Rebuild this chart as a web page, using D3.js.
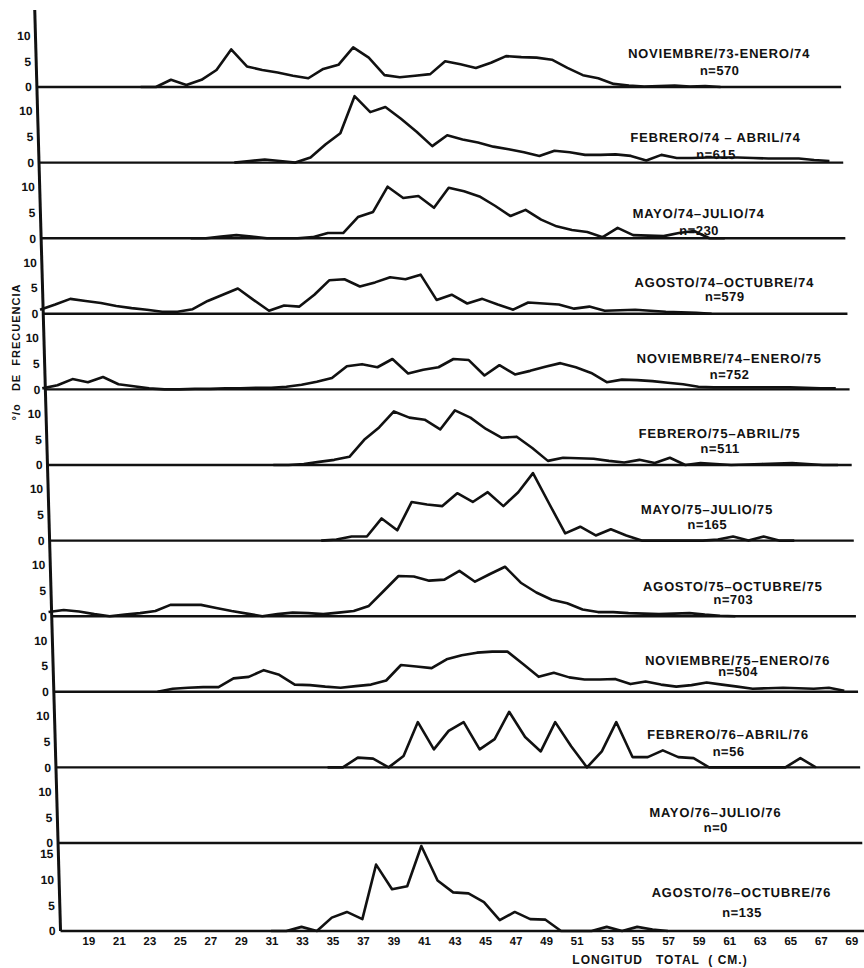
<!DOCTYPE html>
<html>
<head>
<meta charset="utf-8">
<script src="https://cdn.jsdelivr.net/npm/d3@7"></script>
<style>
  body { margin: 0; background: #fff; }
  text { font-family: "Liberation Sans", Arial, sans-serif; font-weight: bold; fill: #111; }
</style>
</head>
<body>
<div id="chart"></div>
<script>
const width = 864;
const height = 968;

// the scanned figure is sheared: the y axis leans right going down
const skew = 0.028;
const bottomY = 931;

// periods and sample sizes
const periods = [
    "NOVIEMBRE/73-ENERO/74", "FEBRERO/74 – ABRIL/74", "MAYO/74–JULIO/74",
    "AGOSTO/74–OCTUBRE/74", "NOVIEMBRE/74–ENERO/75", "FEBRERO/75–ABRIL/75",
    "MAYO/75–JULIO/75", "AGOSTO/75–OCTUBRE/75", "NOVIEMBRE/75–ENERO/76",
    "FEBRERO/76–ABRIL/76", "MAYO/76–JULIO/76", "AGOSTO/76–OCTUBRE/76"
];
const sampleN = [570, 615, 230, 579, 752, 511, 165, 703, 504, 56, 0, 135];

// first length class (cm) of each series
const startCm = [24, 30, 27, 17, 17, 32, 35, 17, 24, 35, 17, 31];

// % frequency per 1 cm class
const freqNov73Ene74 = [0, 0, 1.4, 0.4, 1.4, 3.3, 7.3, 4, 3.3, 2.8, 2.2, 1.7, 3.5, 4.3, 7.7, 5.7, 2.3, 1.9, 2.2, 2.5, 5, 4.4, 3.7, 4.7, 6, 5.8, 5.7, 5.3, 3.7, 2.3, 1.7, 0.6, 0.3, 0.1, 0.2, 0.3, 0.1, 0.2, 0];
const freqFeb74Abr74 = [0, 0.3, 0.6, 0.3, 0, 1, 3.5, 5.7, 12.9, 9.8, 10.8, 8.5, 6, 3.2, 5.3, 4.5, 3.9, 3.1, 2.6, 2, 1.3, 2.3, 2, 1.5, 1.5, 1.6, 1.3, 0.4, 1.5, 0.9, 0.9, 1, 1, 1, 0.9, 0.8, 0.8, 0.8, 0.5, 0.3];
const freqMay74Jul74 = [0, 0, 0.3, 0.6, 0.3, 0, 0, 0, 0.2, 1, 1, 4.1, 5.1, 10, 7.8, 8.2, 5.9, 9.8, 9.1, 8.1, 6.3, 4.3, 5.5, 3.6, 2.3, 1.6, 1.2, 0.2, 2, 0.6, 0.5, 0.4, 1, 1.4, 0, 0];
const freqAgo74Oct74 = [0.8, 1.8, 2.9, 2.5, 2.1, 1.5, 1.1, 0.8, 0.4, 0.4, 0.9, 2.5, 3.7, 4.9, 2.7, 0.6, 1.6, 1.4, 3.7, 6.5, 6.7, 5.3, 6.1, 7.1, 6.7, 7.6, 2.7, 3.7, 2, 2.9, 1.8, 0.8, 2.2, 2, 1.8, 1, 1.4, 0.6, 0.7, 0.8, 0.6, 0.4, 0.3, 0.2, 0];
const freqNov74Ene75 = [0.2, 0.8, 2, 1.4, 2.4, 1, 0.6, 0.2, 0, 0, 0.1, 0.1, 0.2, 0.2, 0.3, 0.3, 0.5, 0.9, 1.5, 2.2, 4.5, 4.9, 4.3, 5.9, 3.1, 3.8, 4.3, 5.9, 5.7, 2.7, 4.7, 2.9, 3.6, 4.4, 5.1, 4.3, 3.2, 1.4, 1.9, 1.8, 1.6, 1.3, 1, 0.5, 0.4, 0.4, 0.4, 0.4, 0.4, 0.4, 0.3, 0.2, 0.2];
const freqFeb75Abr75 = [0, 0, 0.2, 0.6, 1, 1.6, 4.9, 7.3, 10.4, 9.2, 8.8, 6.9, 10.6, 9.2, 7, 5.3, 5.5, 3.3, 0.8, 1.4, 1.3, 1.2, 0.8, 0.5, 1, 0.4, 1.4, 0, 0.4, 0.2, 0, 0.1, 0.2, 0.3, 0.4, 0.2, 0, 0];
const freqMay75Jul75 = [0, 0.2, 0.8, 0.8, 4.3, 2, 7.5, 7, 6.7, 9.2, 7.5, 9.4, 6.7, 9.4, 13.1, 7.2, 1.4, 2.7, 1, 2.2, 1, 0, 0, 0, 0, 0, 0.2, 0.8, 0, 0.8, 0, 0];
const freqAgo75Oct75 = [0.8, 1.2, 0.9, 0.4, 0, 0.3, 0.6, 1, 2.2, 2.2, 2.2, 1.6, 1, 0.5, 0, 0.4, 0.7, 0.6, 0.4, 0.7, 1, 2, 4.9, 7.8, 7.7, 6.9, 7.1, 8.8, 6.7, 8.2, 9.6, 6.5, 4.6, 3.2, 2.5, 1.3, 0.8, 0.8, 0.6, 0.5, 0.4, 0.5, 0.6, 0.3, 0.1, 0];
const freqNov75Ene76 = [0, 0.6, 0.8, 0.9, 0.9, 2.6, 2.9, 4.2, 3.3, 1.4, 1.3, 1, 0.8, 1.1, 1.4, 2.2, 5.2, 4.9, 4.6, 6.3, 7.1, 7.6, 7.8, 7.8, 5.4, 2.9, 3.7, 2.8, 2.4, 2.4, 2.5, 1.5, 2, 1.4, 1, 1.3, 1.8, 1.4, 1, 0.6, 0.7, 0.8, 0.7, 0.6, 0.8, 0.2];
const freqFeb76Abr76 = [0, 0, 1.9, 1.7, 0, 2.2, 8.8, 3.5, 7.1, 8.8, 3.5, 5.5, 10.8, 5.9, 3.1, 8.8, 4.1, 0, 3.1, 8.8, 2, 2, 3.3, 2, 1.8, 0, 0, 0, 0, 0, 0, 1.8, 0];
const freqMay76Jul76 = []; // n=0
const freqAgo76Oct76 = [0, 0, 0.8, 0, 2.6, 3.7, 2.3, 12.9, 8.1, 8.7, 16.5, 9.8, 7.5, 7.3, 5.6, 2.1, 3.7, 2.3, 2.2, 0, 0, 0, 0.8, 0, 0.8, 0.3, 0];

const series = [freqNov73Ene74, freqFeb74Abr74, freqMay74Jul74, freqAgo74Oct74,
    freqNov74Ene75, freqFeb75Abr75, freqMay75Jul75, freqAgo75Oct75,
    freqNov75Ene76, freqFeb76Abr76, freqMay76Jul76, freqAgo76Oct76];

const xTicks = [19, 21, 23, 25, 27, 29, 31, 33, 35, 37, 39, 41, 43, 45, 47, 49, 51, 53, 55, 57, 59, 61, 63, 65, 67, 69];
const yTicks = [0, 5, 10];
const yTicksLast = [0, 5, 10, 15];

// label offsets above each baseline: [period, n]
const labelLift = [[34, 17], [25, 8], [25, 8], [31, 17], [31, 15], [32, 17], [31, 16], [30, 17], [31, 20], [33, 16], [31, 16], [39, 19]];


const svg = d3.select("#chart").append("svg").attr("width", width).attr("height", height);
svg.append("rect").attr("width", width).attr("height", height).attr("fill", "#fff");

const g = svg.append("g")
    .attr("transform", `translate(${-skew * bottomY},0) skewX(${Math.atan(skew) * 180 / Math.PI})`);

const xScale = d3.scaleLinear().domain([19, 69]).range([88, 851]);
const axisX = xScale(17.2);
const lineEnd = xScale(69.9);

const panelBase = series.map((s, i) => i < series.length - 1 ? 87 + i * 75.6 : bottomY);

// y axis
g.append("line")
    .attr("x1", axisX).attr("x2", axisX)
    .attr("y1", 10).attr("y2", bottomY)
    .attr("stroke", "#111")
    .attr("stroke-width", 3);

series.forEach((values, i) => {
    const base = panelBase[i];
    const yScale = d3.scaleLinear().domain([0, 10]).range([base, base - 51.5]);
    const last = i === series.length - 1;

    // baseline
    g.append("line")
        .attr("x1", axisX).attr("x2", lineEnd)
        .attr("y1", base).attr("y2", base)
        .attr("stroke", "#111")
        .attr("stroke-width", 2.4);

    const yAxis = d3.axisLeft(yScale).tickValues(last ? yTicksLast : yTicks).tickSize(0).tickPadding(4);
    const ya = g.append("g")
        .attr("class", "y-axis")
        .attr("transform", `translate(${axisX - 1},0)`)
        .call(yAxis);
    ya.select(".domain").remove();
    ya.selectAll("text").attr("font-size", 12).attr("font-family", null).attr("fill", "#111");

    const pts = values.map((v, j) => ({ cm: startCm[i] + j, v: v }));
    if (pts.length) {
        g.append("path")
            .datum(pts)
            .attr("fill", "none")
            .attr("stroke", "#111")
            .attr("stroke-width", 2.6)
            .attr("stroke-linejoin", "round")
            .attr("d", d3.line().x(d => xScale(d.cm)).y(d => yScale(d.v)));
    }

    // period label and n
    const title = g.append("text")
        .attr("x", xScale(56))
        .attr("y", base - labelLift[i][0])
        .attr("dy", "0.36em")
        .attr("font-size", 13)
        .attr("letter-spacing", 0.8)
        .text(periods[i]);
    const w = title.node().getComputedTextLength();
    g.append("text")
        .attr("x", xScale(56) + w / 2)
        .attr("y", base - labelLift[i][1])
        .attr("dy", "0.36em")
        .attr("text-anchor", "middle")
        .attr("font-size", 13)
        .attr("letter-spacing", 0.5)
        .text("n=" + sampleN[i]);
});

// x axis labels
const xAxis = d3.axisBottom(xScale).tickValues(xTicks).tickSize(0).tickPadding(6);
const xa = g.append("g")
    .attr("class", "x-axis")
    .attr("transform", `translate(0,${bottomY})`)
    .call(xAxis);
xa.select(".domain").remove();
xa.selectAll("text").attr("font-size", 11.5).attr("font-family", null).attr("fill", "#111");

svg.append("text")
    .attr("x", 660)
    .attr("y", 964)
    .attr("text-anchor", "middle")
    .attr("font-size", 12)
    .attr("letter-spacing", 1)
    .style("white-space", "pre")
    .text("LONGITUD   TOTAL  ( CM.)");

svg.append("text")
    .attr("transform", "translate(20,352) rotate(-90)")
    .attr("text-anchor", "middle")
    .attr("font-size", 11)
    .attr("letter-spacing", 1)
    .style("white-space", "pre")
    .text("°/o   DE  FRECUENCIA");
</script>
</body>
</html>
